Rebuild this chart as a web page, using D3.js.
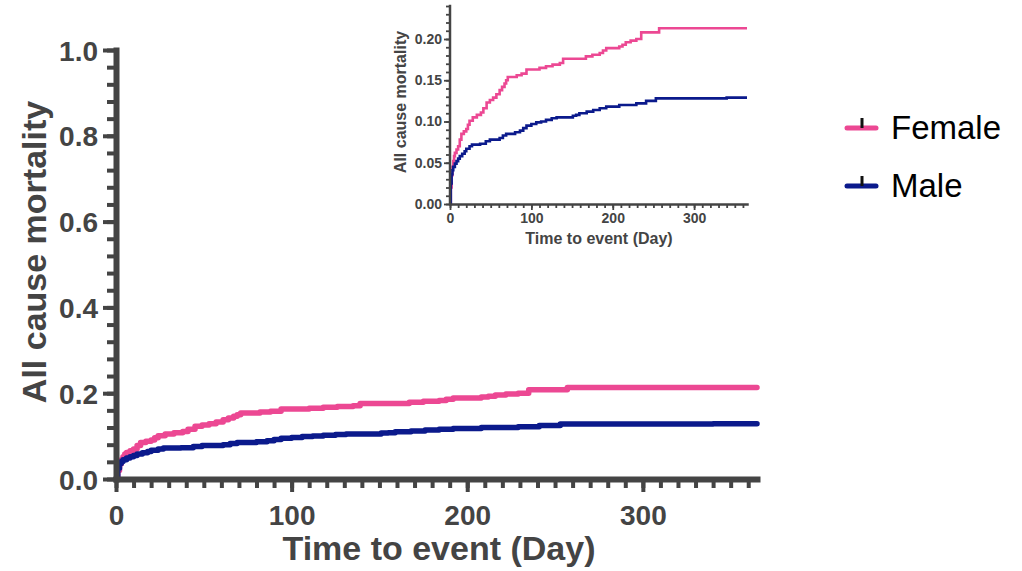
<!DOCTYPE html>
<html>
<head>
<meta charset="utf-8">
<script src="https://cdn.jsdelivr.net/npm/d3@7"></script>
<style>
  html, body { margin: 0; padding: 0; background: #fff; }
  text { font-family: "Liberation Sans", Arial, sans-serif; }
</style>
</head>
<body>
<svg id="chart" width="1022" height="571"></svg>
<script>
// ---------- data ----------
const seriesNames = ["Female", "Male"];
const femaleDays = [0,1,2,3,4,5,6,8,10,12,14,17,20,22,24,28,33,38,41,45,49,53,57,61,64,67,69,71,82,88,94,110,118,126,135,139,167,175,184,188,192,208,212,216,222,229,235,257,365];
const femaleMortality = [0,0.02,0.035,0.045,0.052,0.058,0.062,0.066,0.07,0.078,0.085,0.088,0.091,0.096,0.101,0.105,0.108,0.111,0.116,0.123,0.126,0.129,0.133,0.138,0.142,0.146,0.15,0.154,0.156,0.158,0.163,0.165,0.167,0.169,0.171,0.176,0.179,0.181,0.183,0.186,0.189,0.191,0.193,0.196,0.198,0.2,0.208,0.213,0.213];
const maleDays = [0,1,2,3,4,6,8,10,12,15,18,20,24,27,37,44,49,61,65,69,80,86,90,94,100,106,112,118,125,131,151,155,159,168,176,184,192,208,229,241,253,340,365];
const maleMortality = [0,0.025,0.036,0.041,0.045,0.049,0.052,0.055,0.058,0.061,0.064,0.067,0.07,0.072,0.073,0.076,0.078,0.08,0.083,0.085,0.087,0.089,0.092,0.095,0.097,0.099,0.1,0.102,0.104,0.105,0.107,0.108,0.11,0.112,0.114,0.116,0.118,0.12,0.122,0.125,0.128,0.129,0.129];

const mainYTicks = [0, 0.2, 0.4, 0.6, 0.8, 1.0];
const mainYMinor = d3.range(0, 1.0001, 0.04);
const xTicks = [0, 100, 200, 300];
const xMinor = d3.range(0, 361, 10);
const insetYTicks = [0, 0.05, 0.10, 0.15, 0.20];
const insetYMinor = d3.range(0, 0.2401, 0.01);

const colors = { Female: "#EC4893", Male: "#0B1A8C" };
const axisColor = "#444444";

const series = [
  { name: "Female", pts: femaleDays.map((d, i) => [d, femaleMortality[i]]) },
  { name: "Male", pts: maleDays.map((d, i) => [d, maleMortality[i]]) }
];

const svg = d3.select("#chart");
svg.append("rect").attr("width", 1022).attr("height", 571).attr("fill", "#fff");

// ---------- main chart ----------
const x = d3.scaleLinear().domain([0, 365]).range([116, 757]);
const y = d3.scaleLinear().domain([0, 1]).range([479, 50]);

function styleAxis(g, w, tw, color) {
  g.select(".domain").attr("stroke", color).attr("stroke-width", w).attr("stroke-linecap", "square");
  g.selectAll(".tick line").attr("stroke", color).attr("stroke-width", tw);
}

const main = svg.append("g");

const lineMain = d3.line().x(d => x(d[0])).y(d => y(d[1])).curve(d3.curveStepAfter);
main.selectAll("path.s").data(series).join("path")
  .attr("class", "s")
  .attr("d", d => lineMain(d.pts))
  .attr("fill", "none")
  .attr("stroke", d => colors[d.name])
  .attr("stroke-width", 5.5)
  .attr("stroke-linejoin", "round")
  .attr("stroke-linecap", "round");

main.append("g").attr("transform", "translate(116,0)")
  .call(d3.axisLeft(y).tickValues(mainYMinor).tickSize(9).tickSizeOuter(0).tickFormat(""))
  .call(g => { styleAxis(g, 6, 4, axisColor); g.select(".domain").remove(); });
main.append("g").attr("transform", "translate(0,479)")
  .call(d3.axisBottom(x).tickValues(xMinor).tickSize(9).tickSizeOuter(0).tickFormat(""))
  .call(g => { styleAxis(g, 6, 4, axisColor); g.select(".domain").remove(); });

const yAx = main.append("g").attr("transform", "translate(116,0)")
  .call(d3.axisLeft(y).tickValues(mainYTicks).tickSize(13).tickSizeOuter(0).tickPadding(5)
    .tickFormat(d3.format(".1f")));
styleAxis(yAx, 6, 4, axisColor);
yAx.selectAll("text").attr("font-size", 28).attr("font-weight", "bold").attr("fill", axisColor)
  .attr("dy", "0.36em");

const xAx = main.append("g").attr("transform", "translate(0,479)")
  .call(d3.axisBottom(x).tickValues(xTicks).tickSize(13).tickSizeOuter(0).tickPadding(13)
    .tickFormat(d3.format("d")));
styleAxis(xAx, 6, 4, axisColor);
xAx.selectAll("text").attr("font-size", 28).attr("font-weight", "bold").attr("fill", axisColor);

main.append("text")
  .attr("transform", "translate(46,252) rotate(-90)")
  .attr("text-anchor", "middle")
  .attr("font-size", 34).attr("font-weight", "bold").attr("fill", axisColor)
  .text("All cause mortality");
main.append("text")
  .attr("x", 439).attr("y", 560)
  .attr("text-anchor", "middle")
  .attr("font-size", 34).attr("font-weight", "bold").attr("fill", axisColor)
  .text("Time to event (Day)");

// ---------- inset ----------
const xi = d3.scaleLinear().domain([0, 365]).range([450, 747]);
const yi = d3.scaleLinear().domain([0, 0.24]).range([204, 6]);
const inset = svg.append("g");

const lineInset = d3.line().x(d => xi(d[0])).y(d => yi(d[1])).curve(d3.curveStepAfter);
inset.selectAll("path.s").data(series).join("path")
  .attr("class", "s")
  .attr("d", d => lineInset(d.pts))
  .attr("fill", "none")
  .attr("stroke", d => colors[d.name])
  .attr("stroke-width", 2.6);

inset.append("g").attr("transform", "translate(450,0)")
  .call(d3.axisLeft(yi).tickValues(insetYMinor).tickSize(4).tickSizeOuter(0).tickFormat(""))
  .call(g => { styleAxis(g, 2.5, 1.8, axisColor); g.select(".domain").remove(); });
inset.append("g").attr("transform", "translate(0,204)")
  .call(d3.axisBottom(xi).tickValues(xMinor).tickSize(4).tickSizeOuter(0).tickFormat(""))
  .call(g => { styleAxis(g, 2.5, 1.8, axisColor); g.select(".domain").remove(); });

const yiAx = inset.append("g").attr("transform", "translate(450,0)")
  .call(d3.axisLeft(yi).tickValues(insetYTicks).tickSize(6).tickSizeOuter(0).tickPadding(2)
    .tickFormat(d3.format(".2f")));
styleAxis(yiAx, 2.5, 1.8, axisColor);
yiAx.select(".domain").attr("d", `M0,${yi(0.24)}V${yi(0)}`);
yiAx.selectAll("text").attr("font-size", 14).attr("font-weight", "bold").attr("fill", axisColor);

const xiAx = inset.append("g").attr("transform", "translate(0,204)")
  .call(d3.axisBottom(xi).tickValues(xTicks).tickSize(6).tickSizeOuter(0).tickPadding(3)
    .tickFormat(d3.format("d")));
styleAxis(xiAx, 2.5, 1.8, axisColor);
xiAx.selectAll("text").attr("font-size", 14).attr("font-weight", "bold").attr("fill", axisColor);

inset.append("text")
  .attr("transform", "translate(406,102) rotate(-90)")
  .attr("text-anchor", "middle")
  .attr("font-size", 16).attr("font-weight", "bold").attr("fill", axisColor)
  .text("All cause mortality");
inset.append("text")
  .attr("x", 599).attr("y", 244)
  .attr("text-anchor", "middle")
  .attr("font-size", 16).attr("font-weight", "bold").attr("fill", axisColor)
  .text("Time to event (Day)");

// ---------- legend ----------
const legendY = d3.scalePoint().domain(seriesNames).range([128, 186]);
const lg = svg.append("g").selectAll("g").data(seriesNames).join("g")
  .attr("transform", d => `translate(0,${legendY(d)})`);
lg.append("line").attr("x1", 847).attr("x2", 876).attr("y1", 0).attr("y2", 0)
  .attr("stroke", d => colors[d]).attr("stroke-width", 5).attr("stroke-linecap", "round");
lg.append("line").attr("x1", 862).attr("x2", 862).attr("y1", -10).attr("y2", 0)
  .attr("stroke", "#111").attr("stroke-width", 3);
lg.append("text").attr("x", 891).attr("y", 11)
  .attr("font-size", 33).attr("fill", "#000")
  .text(d => d);
</script>
</body>
</html>
